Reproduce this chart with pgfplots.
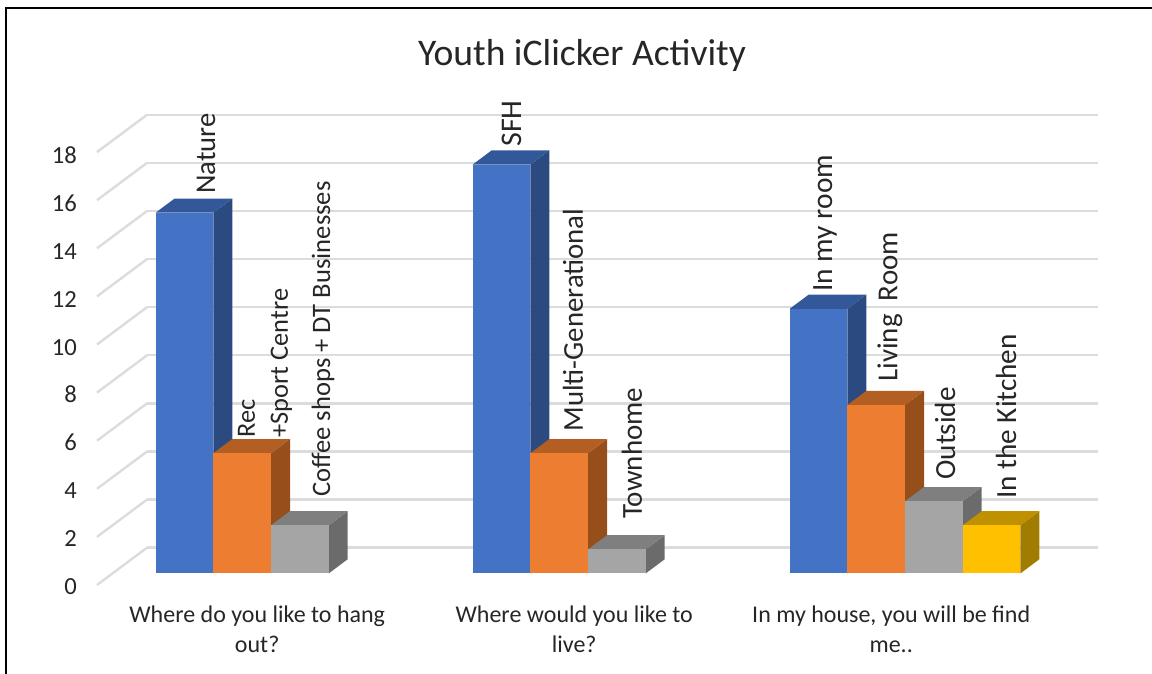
\documentclass[border=0pt]{standalone}
\usepackage{pgfplots}
\usepackage{fontspec}
\setmainfont{Carlito}
\pgfplotsset{compat=1.18}

\definecolor{txt}{HTML}{262626}
\definecolor{gridc}{HTML}{DCDCDC}
\definecolor{blueF}{HTML}{4472C4}
\definecolor{blueT}{HTML}{335899}
\definecolor{blueS}{HTML}{2B4A80}
\definecolor{orgF}{HTML}{ED7D31}
\definecolor{orgT}{HTML}{B35E22}
\definecolor{orgS}{HTML}{964F1B}
\definecolor{gryF}{HTML}{A5A5A5}
\definecolor{gryT}{HTML}{7F7F7F}
\definecolor{gryS}{HTML}{6B6B6B}
\definecolor{yelF}{HTML}{FFC000}
\definecolor{yelT}{HTML}{BF9000}
\definecolor{yelS}{HTML}{A07D00}

% bar from x=#1 to x=#2, value #3, colour prefix #4; depth runs 0.31 to 0.69
\newcommand{\barthree}[4]{%
  \addplot3[fill=#4S,draw=none] coordinates {(#2,0.31,0)(#2,0.69,0)(#2,0.69,#3)(#2,0.31,#3)} -- cycle;
  \addplot3[fill=#4T,draw=none] coordinates {(#1,0.31,#3)(#2,0.31,#3)(#2,0.69,#3)(#1,0.69,#3)} -- cycle;
  \addplot3[fill=#4F,draw=none] coordinates {(#1,0.31,0)(#2,0.31,0)(#2,0.31,#3)(#1,0.31,#3)} -- cycle;
}
% rotated data label: font size, px centre x, px lower end y, text
\newcommand{\lbl}[4]{\node[rotate=90,anchor=west,inner sep=0pt,text=txt,font=\fontsize{#1}{16.5}\selectfont,align=left] at (#2*0.5pt,{(672-#3)*0.5pt}) {#4};}

\begin{document}
\begin{tikzpicture}
\path[use as bounding box] (0,0) rectangle (576pt,337pt);
\begin{axis}[
    at={(48.5pt,44.5pt)},
    anchor=origin,
    x={(158.5pt,0pt)},
    y={(25pt,18.65pt)},
    z={(0pt,12.025pt)},
    xmin=0, xmax=3,
    ymin=0, ymax=1,
    zmin=0, zmax=18,
    clip=false,
    title={Youth iClicker Activity},
    title style={at={(axis cs:1.53,0,21.5)},anchor=center,font=\fontsize{18.8}{22}\selectfont,text=txt},
    xtick={0.5,1.5,2.5},
    xticklabels={{Where do you like to hang\\out?},{Where would you like to\\live?},{In my house, you will be find\\me..}},
    x tick label style={align=center,font=\fontsize{12}{15}\selectfont,text=txt,yshift=-7pt,xshift=8.5pt},
    ytick=\empty,
    ztick={0,2,...,18},
    zticklabel style={text=txt,font=\fontsize{12.3}{14}\selectfont,xshift=-6.5pt,yshift=1.5pt},
    /pgf/number format/assume math mode=true,
    zmajorgrids=true,
    grid style={gridc,line width=1.2pt},
    axis line style={draw=none},
    major tick length=0pt,
]
\barthree{0.136}{0.318}{15}{blue}
\barthree{0.318}{0.500}{5}{org}
\barthree{0.500}{0.682}{2}{gry}
\barthree{1.136}{1.318}{17}{blue}
\barthree{1.318}{1.500}{5}{org}
\barthree{1.500}{1.682}{1}{gry}
\barthree{2.136}{2.318}{11}{blue}
\barthree{2.318}{2.500}{7}{org}
\barthree{2.500}{2.682}{3}{gry}
\barthree{2.682}{2.864}{2}{yel}
\end{axis}
\lbl{14.3}{206}{192}{Nature}
\lbl{13.2}{265}{436}{Rec\\+Sport Centre}
\lbl{13.3}{323}{495}{Coffee shops + DT Businesses}
\lbl{15}{512}{145}{SFH}
\lbl{14.4}{573}{430}{Multi-Generational}
\lbl{14.5}{632}{517}{Townhome}
\lbl{14.7}{825}{290}{In my room}
\lbl{14.5}{890}{380}{Living~~Room}
\lbl{14.6}{945}{478}{Outside}
\lbl{14.6}{1006}{497}{In the Kitchen}
\draw[black,line width=1pt] (3pt,0pt) -- (3pt,333pt) -- (576pt,333pt);
\end{tikzpicture}
\end{document}
